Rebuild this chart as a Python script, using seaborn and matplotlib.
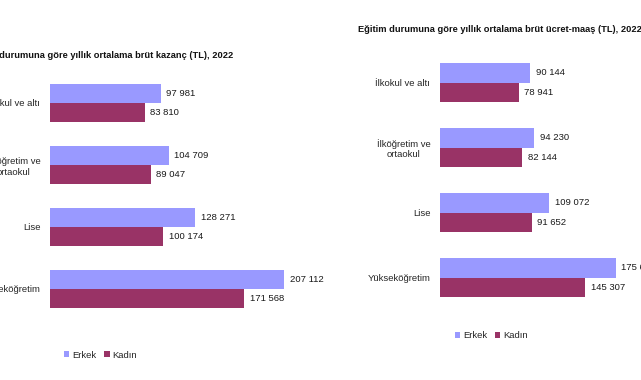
import pandas as pd
import seaborn as sns
import matplotlib.pyplot as plt

categories = ['İlkokul ve altı', 'İlköğretim ve\nortaokul', 'Lise', 'Yükseköğretim']
sexes = ['Erkek', 'Kadın']

# left chart: annual average gross earnings (TL), 2022
kazanc_erkek = [97981, 104709, 128271, 207112]
kazanc_kadin = [83810, 89047, 100174, 171568]

# right chart: annual average gross wage-salary (TL), 2022
ucret_erkek = [90144, 94230, 109072, 175613]
ucret_kadin = [78941, 82144, 91652, 145307]

title_left = 'Eğitim durumuna göre yıllık ortalama brüt kazanç (TL), 2022'
title_right = 'Eğitim durumuna göre yıllık ortalama brüt ücret-maaş (TL), 2022'

colors = {'Erkek': '#9999ff', 'Kadın': '#993366'}

sns.set_style('white')
plt.rcParams['font.family'] = ['Liberation Sans', 'DejaVu Sans']


def long_df(erkek, kadin):
    return pd.DataFrame({
        'egitim': categories * 2,
        'cinsiyet': ['Erkek'] * len(categories) + ['Kadın'] * len(categories),
        'deger': list(erkek) + list(kadin),
    })


def fmt(v):
    return f'{v:,.0f}'.replace(',', ' ')


def draw(ax, df, xmax, legend_pos):
    sns.barplot(data=df, y='egitim', x='deger', hue='cinsiyet', hue_order=sexes,
                palette=colors, orient='h', width=0.6, ax=ax,
                edgecolor='none', saturation=1)
    for cont, sex in zip(ax.containers, sexes):
        vals = df.loc[df['cinsiyet'] == sex, 'deger']
        ax.bar_label(cont, labels=[fmt(v) for v in vals], padding=4,
                     fontsize=6.8, color='#1a1a1a')
    ax.set_xlim(0, xmax)
    ax.set_xlabel('')
    ax.set_ylabel('')
    ax.set_xticks([])
    ax.tick_params(axis='y', length=0, pad=7, labelsize=6.8)
    for lab in ax.get_yticklabels():
        lab.set_multialignment('center')
    sns.despine(ax=ax, left=True, bottom=True)
    ax.legend(loc='upper left', bbox_to_anchor=legend_pos, ncol=2, frameon=False,
              fontsize=6.8, handlelength=0.6, handleheight=0.6,
              columnspacing=0.8, handletextpad=0.3)


fig = plt.figure(figsize=(6.41, 3.80), dpi=100)

ax1 = fig.add_axes([50 / 641, 1 - 320 / 380, 266 / 641, 248 / 380])
draw(ax1, long_df(kazanc_erkek, kazanc_kadin), 235000, (0.02, -0.09))

ax2 = fig.add_axes([440 / 641, 1 - 310 / 380, 200 / 641, 260 / 380])
draw(ax2, long_df(ucret_erkek, ucret_kadin), 200000, (0.03, -0.05))

fig.text(-32 / 641, 1 - 56 / 380, title_left, fontsize=6.7, fontweight='bold',
         ha='left', va='center', color='#111111')
fig.text(358 / 641, 1 - 29 / 380, title_right, fontsize=6.7, fontweight='bold',
         ha='left', va='center', color='#111111')

fig.savefig('out.png', dpi=100)
